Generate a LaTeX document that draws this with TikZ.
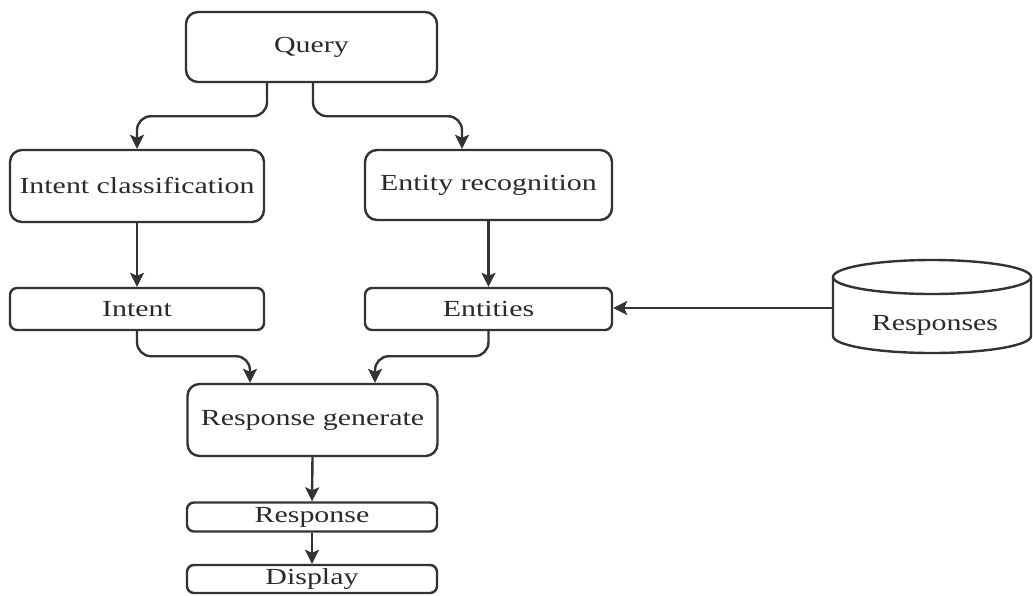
\documentclass[tikz,border=0pt]{standalone}
\usepackage{fontspec}
\setmainfont{Liberation Serif}[FakeStretch=1.3]
\usetikzlibrary{arrows.meta,calc}
\definecolor{ln}{HTML}{333333}
\definecolor{tx}{HTML}{2A2A2A}
\begin{document}
\begin{tikzpicture}[x=1pt,y=-1pt,
  box/.style={draw=ln,line width=2.4pt,rounded corners=12pt,fill=white,text=tx,
    font=\fontsize{23}{27}\selectfont,inner sep=0pt},
  sbox/.style={box,rounded corners=7pt},
  arr/.style={draw=ln,line width=2.4pt,rounded corners=14pt,
    -{Stealth[length=14pt,width=14pt,inset=3pt]}}]
\useasboundingbox (0,0) rectangle (1033,595);
\node[box,minimum width=251pt,minimum height=70pt] (q) at (311.5,47) {Query};
\node[box,minimum width=254pt,minimum height=72pt] (ic) at (137,186) {Intent classification};
\node[box,minimum width=247pt,minimum height=70pt] (er) at (488.5,185) {Entity recognition};
\node[sbox,minimum width=254pt,minimum height=42pt] (int) at (137,309) {Intent};
\node[sbox,minimum width=247pt,minimum height=42pt] (ent) at (488.5,309) {Entities};
\node[box,minimum width=250pt,minimum height=72pt] (rg) at (312.5,420) {Response generate};
\node[sbox,minimum width=250pt,minimum height=29pt] (rs) at (312,517) {Response};
\node[sbox,minimum width=250pt,minimum height=28pt] (dp) at (312,579) {Display};
% cylinder
\draw[ln,line width=2.4pt,fill=white] (833,277) -- (833,336)
  arc[start angle=180,end angle=360,x radius=99pt,y radius=17pt] -- (1031,277);
\draw[ln,line width=2.4pt] (932,277) ellipse [x radius=99pt,y radius=17pt];
\node[text=tx,font=\fontsize{23}{27}\selectfont] (db) at (935,325) {Responses};
\coordinate (dbw) at (833,308);
% connectors
\draw[arr] ([xshift=-44.5pt]q.south) -- ++(0,33) -| (ic.north);
\draw[arr] ([xshift=1.5pt]q.south) -- ++(0,33) -| ([xshift=-26.5pt]er.north);
\draw[arr] (ic.south) -- (int.north);
\draw[arr] (er.south) -- (ent.north);
\draw[arr] (int.south) -- ++(0,25) -| ([xshift=-62.5pt]rg.north);
\draw[arr] (ent.south) -- ++(0,25) -| ([xshift=62.5pt]rg.north);
\draw[arr] (dbw) -- (dbw -| ent.east);
\draw[arr] (rg.south) -- (rs.north);
\draw[arr] (rs.south) -- (dp.north);
\end{tikzpicture}
\end{document}
